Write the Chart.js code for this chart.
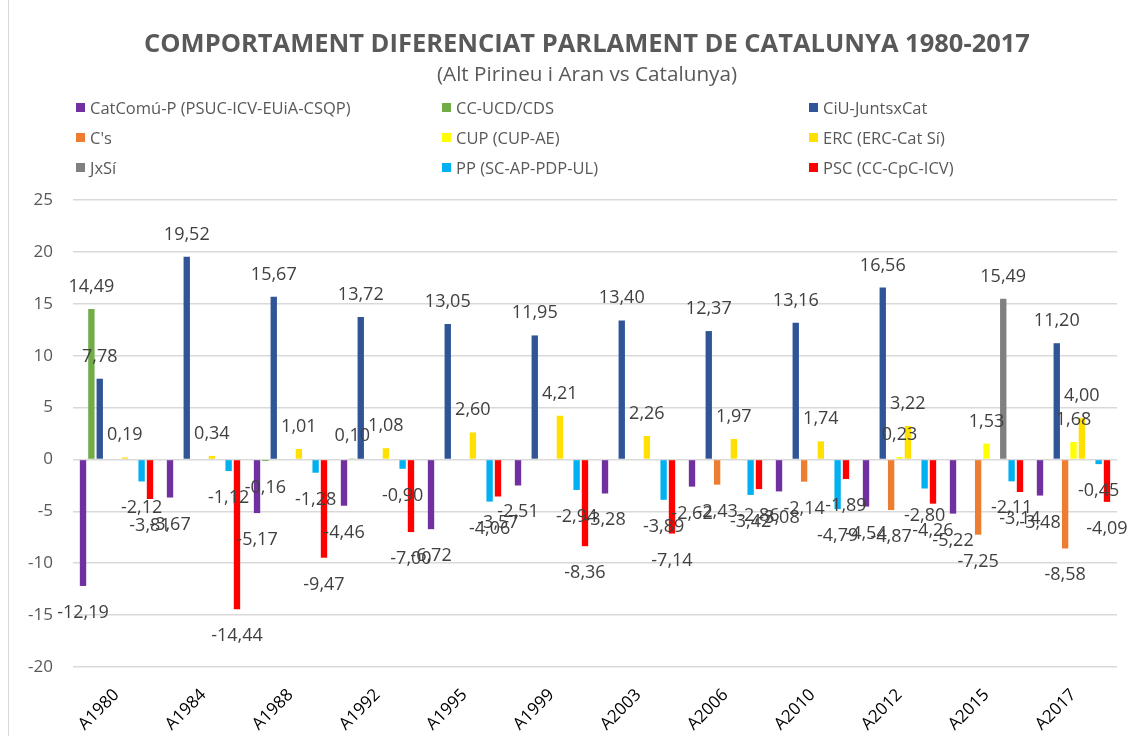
<!DOCTYPE html>
<html>
<head>
<meta charset="utf-8">
<script src="https://cdn.jsdelivr.net/npm/chart.js@4"></script>
<style>
html,body{margin:0;padding:0;background:#fff;}
#wrap{position:relative;width:1131px;height:736px;overflow:hidden;background:#fff;}
#c{position:absolute;left:0;top:0;}
#border{position:absolute;left:8px;top:0;width:1px;height:736px;background:#d9d9d9;}
#title{position:absolute;left:587px;top:27px;transform:translateX(-50%);white-space:nowrap;font-family:"Open Sans",sans-serif;font-weight:bold;font-size:25.5px;line-height:30px;color:#595959;}
#subtitle{position:absolute;left:587px;top:61px;transform:translateX(-50%);white-space:nowrap;font-family:"Open Sans",sans-serif;font-size:20.7px;line-height:24px;color:#595959;}
#legend{position:absolute;left:0;top:92px;width:1131px;font-family:"Open Sans",sans-serif;font-size:16.5px;color:#595959;}
.li{position:absolute;height:30px;display:flex;align-items:center;white-space:nowrap;}
.sw{width:9px;height:9px;margin-right:5px;flex:none;}
</style>
</head>
<body>
<div id="wrap">
<canvas id="c" width="1131" height="736"></canvas>
<div id="border"></div>
<div id="title"></div>
<div id="subtitle"></div>
<div id="legend"></div>
</div>
<script>
const titleText = 'COMPORTAMENT DIFERENCIAT PARLAMENT DE CATALUNYA 1980-2017';
const subtitleText = '(Alt Pirineu i Aran vs Catalunya)';

const categories = ['A1980','A1984','A1988','A1992','A1995','A1999','A2003','A2006','A2010','A2012','A2015','A2017'];

const seriesNames = ['CatComú-P (PSUC-ICV-EUiA-CSQP)','CC-UCD/CDS','CiU-JuntsxCat',"C's",'CUP (CUP-AE)','ERC (ERC-Cat Sí)','JxSí','PP (SC-AP-PDP-UL)','PSC (CC-CpC-ICV)'];

const catcomu = [-12.19, -3.67, -5.17, -4.46, -6.72, -2.51, -3.28, -2.62, -3.08, -4.54, -5.22, -3.48];
const ccucd   = [14.49, null, -0.16, 0.10, null, null, null, null, null, null, null, null];
const ciu     = [7.78, 19.52, 15.67, 13.72, 13.05, 11.95, 13.40, 12.37, 13.16, 16.56, null, 11.20];
const cs      = [null, null, null, null, null, null, null, -2.43, -2.14, -4.87, -7.25, -8.58];
const cup     = [null, null, null, null, null, null, null, null, null, 0.23, 1.53, 1.68];
const erc     = [0.19, 0.34, 1.01, 1.08, 2.60, 4.21, 2.26, 1.97, 1.74, 3.22, null, 4.00];
const jxsi    = [null, null, null, null, null, null, null, null, null, null, 15.49, null];
const pp      = [-2.12, -1.12, -1.28, -0.90, -4.06, -2.94, -3.89, -3.42, -4.79, -2.80, -2.11, -0.45];
const psc     = [-3.81, -14.44, -9.47, -7.00, -3.57, -8.36, -7.14, -2.86, -1.89, -4.26, -3.14, -4.09];

const yTicks = [-20, -15, -10, -5, 0, 5, 10, 15, 20, 25];

const seriesValues = [catcomu, ccucd, ciu, cs, cup, erc, jxsi, pp, psc];
const seriesColors = ['#7030A0','#70AD47','#2F5597','#ED7D31','#FFFF00','#FFE000','#808080','#00B0F0','#FF0000'];

document.getElementById('title').textContent = titleText;
document.getElementById('subtitle').textContent = subtitleText;

const datasets = seriesNames.map((n, i) => ({
  label: n,
  data: seriesValues[i],
  backgroundColor: seriesColors[i],
  borderWidth: 0,
  categoryPercentage: 0.866,
  barPercentage: 0.76
}));

const labelPlugin = {
  id: 'barLabels',
  afterDatasetsDraw(chart) {
    const ctx = chart.ctx;
    ctx.save();
    ctx.font = '18px "Open Sans", sans-serif';
    ctx.fillStyle = '#404040';
    ctx.textAlign = 'center';
    ctx.textBaseline = 'alphabetic';
    chart.data.datasets.forEach((ds, i) => {
      const meta = chart.getDatasetMeta(i);
      meta.data.forEach((el, j) => {
        const v = ds.data[j];
        if (v === null || v === undefined) return;
        const txt = v.toFixed(2).replace('.', ',');
        const y = v >= 0 ? el.y - 17 : el.y + 32;
        ctx.fillText(txt, el.x, y);
      });
    });
    ctx.restore();
  }
};

new Chart(document.getElementById('c'), {
  type: 'bar',
  data: { labels: categories, datasets },
  plugins: [labelPlugin],
  options: {
    responsive: false,
    animation: false,
    devicePixelRatio: 1,
    layout: { padding: { left: 0, right: 14, top: 200, bottom: 0 } },
    plugins: {
      legend: { display: false },
      tooltip: { enabled: false },
      title: { display: false }
    },
    scales: {
      x: {
        grid: { display: false },
        border: { display: false },
        ticks: {
          color: '#000',
          font: { family: '"Open Sans", sans-serif', size: 17 },
          minRotation: 45, maxRotation: 45,
          padding: 10
        },
        afterFit(s) { s.height = 69; }
      },
      y: {
        min: -20, max: 25,
        afterBuildTicks(s) { s.ticks = yTicks.map(v => ({ value: v })); },
        grid: { color: '#d9d9d9', lineWidth: 1.5, drawTicks: false },
        border: { display: false },
        ticks: {
          color: '#595959',
          font: { family: '"Open Sans", sans-serif', size: 17 },
          padding: 20
        },
        afterFit(s) { s.width = 73; }
      }
    }
  }
});

// HTML legend in 3 columns
const legend = document.getElementById('legend');
const colX = [76, 442, 809];
seriesNames.forEach((n, i) => {
  const d = document.createElement('div');
  d.className = 'li';
  d.style.left = colX[i % 3] + 'px';
  d.style.top = (Math.floor(i / 3) * 30) + 'px';
  const sw = document.createElement('span');
  sw.className = 'sw';
  sw.style.background = seriesColors[i];
  const t = document.createElement('span');
  t.textContent = n;
  d.appendChild(sw);
  d.appendChild(t);
  legend.appendChild(d);
});
</script>
</body>
</html>
